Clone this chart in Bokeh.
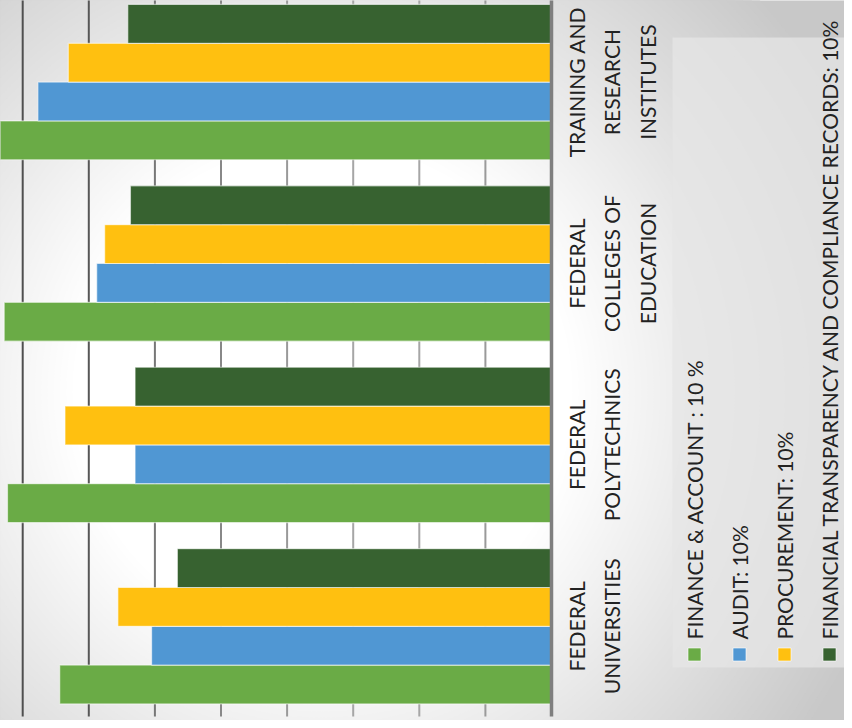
import math
from bokeh.plotting import figure
from bokeh.models import Range1d, ColumnDataSource
from bokeh.core.properties import value
from bokeh.embed import file_html
from bokeh.resources import INLINE

# ---------------- data ----------------
categories = [
    "FEDERAL\nUNIVERSITIES",
    "FEDERAL\nPOLYTECHNICS",
    "FEDERAL\nCOLLEGES OF\nEDUCATION",
    "TRAINING AND\nRESEARCH\nINSTITUTES",
]
series_names = [
    "FINANCE & ACCOUNT : 10 %",
    "AUDIT: 10%",
    "PROCUREMENT: 10%",
    "FINANCIAL TRANSPARENCY AND COMPLIANCE RECORDS: 10%",
]
finance_account = [74.4, 82.3, 82.8, 83.5]
audit = [60.5, 63.0, 68.8, 77.7]
procurement = [65.6, 73.6, 67.6, 73.1]
transparency = [56.6, 63.0, 63.7, 64.1]
grid_values = [10, 20, 30, 40, 50, 60, 70, 80]

# ---------------- styling ----------------
series_values = [finance_account, audit, procurement, transparency]
series_colors = ["#6aab46", "#5097d3", "#ffc010", "#376230"]
series_offsets = [-0.321, -0.107, 0.107, 0.321]
bar_height = 0.214
font = "Lato"
text_color = "#222222"

# reference pixel -> data helpers
PX = 6.61      # pixels per value unit
X0 = 559.0     # pixel of value 0 (baseline)
YC0 = 633.8    # pixel of first category centre
PER = 181.4    # pixels per category
OFF = 8        # page margin: reference pixel shown at figure pixel 0


def xd(X):
    return (X0 - X) / PX


def yd(Y):
    return (YC0 - Y) / PER


W, H = 844, 720
p = figure(
    width=W, height=H,
    x_range=Range1d(xd(OFF), xd(OFF + W)),
    y_range=Range1d(yd(OFF + H), yd(OFF)),
    output_backend="svg", toolbar_location=None,
    x_axis_type=None, y_axis_type=None,
    min_border=0, outline_line_color=None,
    background_fill_color="#c8c8c8", border_fill_color="#c8c8c8",
)
p.grid.visible = False

# ---------------- background radial gradient ----------------
cx, cy = 330, 400
ring_r, ring_c = [], []
for g in range(201, 256):
    r = 250 + (255 - g) / 0.16
    ring_r.append(r)
    ring_c.append("#%02x%02x%02x" % (g, g, g))
p.ellipse(
    x=[xd(cx)] * len(ring_r), y=[yd(cy)] * len(ring_r),
    width=[2 * r / PX for r in ring_r], height=[2 * r / PER for r in ring_r],
    fill_color=ring_c, line_color=None,
)

# ---------------- legend box ----------------
p.quad(left=xd(680), right=xd(870), top=yd(45), bottom=yd(675),
       fill_color="#e5e5e5", fill_alpha=0.75, line_color=None)

# ---------------- grid lines ----------------
grid_colors = ["#9a9a9a", "#a6a6a6", "#a6a6a6", "#999999", "#888888", "#777777", "#575757", "#4f4f4f"]
p.segment(x0=grid_values, x1=grid_values,
          y0=[yd(724)] * len(grid_values), y1=[yd(-10)] * len(grid_values),
          line_color=grid_colors, line_width=2)

# ---------------- bars ----------------
for vals, col, off in zip(series_values, series_colors, series_offsets):
    src = ColumnDataSource(dict(y=[i + off for i in range(len(categories))], v=vals))
    p.hbar(y="y", left=0, right="v", height=bar_height, source=src,
           fill_color=col, line_color="white", line_alpha=0.55, line_width=1.2)

# baseline
p.segment(x0=[0], x1=[0], y0=[yd(724)], y1=[yd(-10)], line_color="#7f7f7f", line_width=3.5)

# ---------------- category labels ----------------
p.text(x=[xd(571)] * len(categories), y=list(range(len(categories))), text=categories,
       angle=math.pi / 2, text_align="center", text_baseline="top",
       text_font=value(font), text_font_size="21px", text_color=text_color,
       text_line_height=1.43)

# ---------------- legend ----------------
leg_x = [xd(702 + 45 * i) for i in range(len(series_names))]
p.scatter(x=leg_x, y=[yd(662)] * len(leg_x), marker="square", size=13,
          fill_color=series_colors, line_color="white", line_alpha=0.6, line_width=1)
p.text(x=leg_x, y=[yd(647)] * len(leg_x), text=series_names,
       angle=math.pi / 2, text_align="left", text_baseline="middle",
       text_font=value(font), text_font_size="21px", text_color=text_color)

open("out.html", "w").write(file_html(p, INLINE))
